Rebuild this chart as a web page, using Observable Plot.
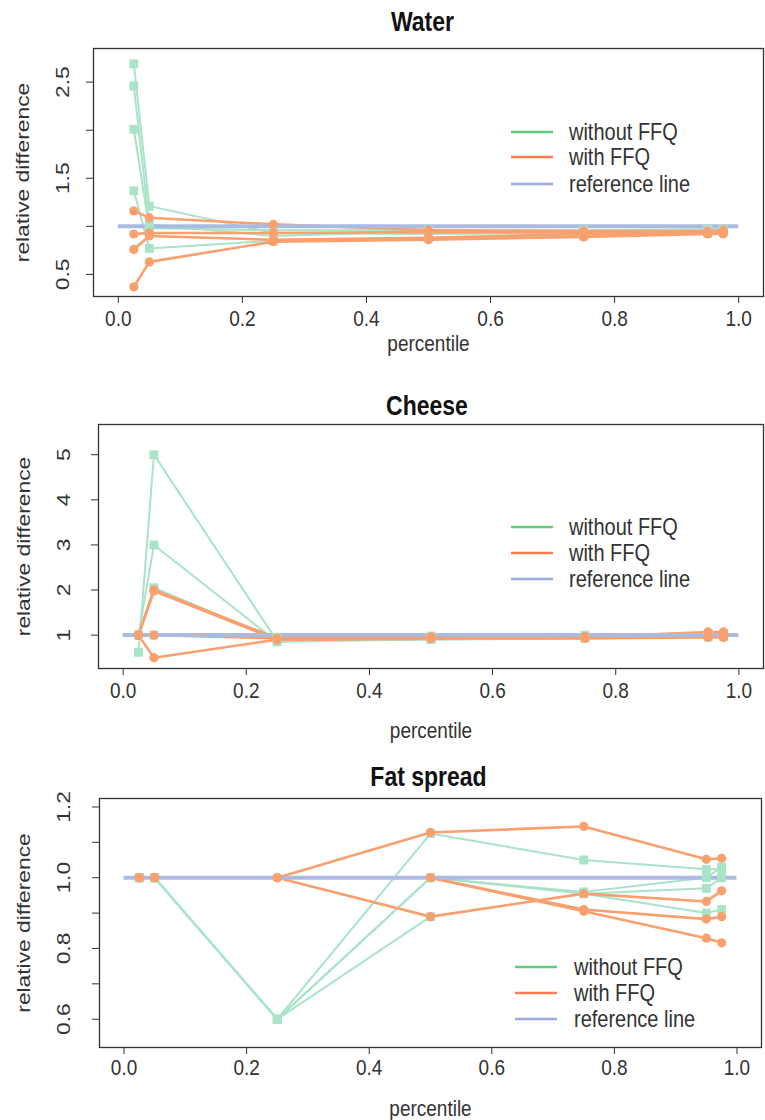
<!DOCTYPE html>
<html>
<head>
<meta charset="utf-8">
<script src="https://cdn.jsdelivr.net/npm/d3@7"></script>
<script src="https://cdn.jsdelivr.net/npm/@observablehq/plot@0.6"></script>
<style>
  html, body { margin: 0; padding: 0; background: #fff; }
  #chart svg { display: block; }
</style>
</head>
<body>
<div id="chart"></div>
<script>
// ---------- data ----------
const percentiles = [0.025, 0.05, 0.25, 0.5, 0.75, 0.95, 0.975];
const xTicks = [0, 0.2, 0.4, 0.6, 0.8, 1.0];
const refValue = 1;
const refRange = [0, 1];
const legendLabels = ["without FFQ", "with FFQ", "reference line"];

const waterTitle = "Water";
const waterWithout = [
  [2.69, 1.21, 0.93, 0.92, 0.93, 0.95, 0.95],
  [2.46, 1.02, 0.90, 0.95, 0.95, 0.96, 0.96],
  [2.01, 0.98, 0.96, 0.96, 0.96, 0.97, 0.97],
  [1.37, 0.77, 0.85, 0.88, 0.90, 0.93, 0.94]
];
const waterWith = [
  [1.16, 1.09, 1.02, 0.96, 0.95, 0.95, 0.96],
  [0.92, 0.93, 0.93, 0.94, 0.94, 0.94, 0.95],
  [0.76, 0.90, 0.86, 0.88, 0.92, 0.93, 0.93],
  [0.37, 0.63, 0.84, 0.86, 0.89, 0.92, 0.92]
];
const waterYTicks = [0.5, 1.0, 1.5, 2.0, 2.5];
const waterYLabels = [0.5, 1.5, 2.5];

const cheeseTitle = "Cheese";
const cheeseWithout = [
  [0.62, 5.0, 0.87, 0.90, 0.93, 0.96, 0.97],
  [1.0, 3.0, 0.85, 0.92, 0.95, 1.0, 1.0],
  [1.0, 2.05, 0.90, 0.95, 0.97, 1.0, 1.02],
  [1.0, 1.0, 0.95, 0.98, 1.0, 1.02, 1.03]
];
const cheeseWith = [
  [1.0, 2.0, 0.93, 0.95, 0.96, 1.07, 1.07],
  [1.0, 1.98, 0.90, 0.93, 0.93, 0.97, 0.96],
  [1.0, 1.0, 0.93, 0.96, 0.97, 1.0, 1.0],
  [1.0, 0.5, 0.90, 0.92, 0.93, 0.95, 0.95]
];
const cheeseYTicks = [1, 2, 3, 4, 5];
const cheeseYLabels = [1, 2, 3, 4, 5];

const fatTitle = "Fat spread";
const fatWithout = [
  [1.0, 1.0, 0.6, 1.125, 1.05, 1.024, 1.025],
  [1.0, 1.0, 0.6, 1.0, 0.96, 1.0, 1.03],
  [1.0, 1.0, 0.6, 1.0, 0.955, 0.90, 0.91],
  [1.0, 1.0, 0.6, 0.89, 0.955, 0.97, 1.0]
];
const fatWith = [
  [1.0, 1.0, 1.0, 1.128, 1.145, 1.052, 1.055],
  [1.0, 1.0, 1.0, 1.0, 0.91, 0.883, 0.89],
  [1.0, 1.0, 1.0, 1.0, 0.905, 0.829, 0.816],
  [1.0, 1.0, 1.0, 0.89, 0.955, 0.933, 0.963]
];
const fatYTicks = [0.6, 0.7, 0.8, 0.9, 1.0, 1.1, 1.2];
const fatYLabels = [0.6, 0.8, 1.0, 1.2];

// ---------- styles ----------
const greenData = "#a9e3c8";
const orangeData = "#f9a06e";
const refColor = "#abbbe0";
const legendColors = ["#63cc7c", "#fb7c4f", "#9aaad9"];
const font = "'Liberation Sans', Arial, Helvetica, sans-serif";
const ink = "#333";
const textStretch = 1.2;

function tidy(series) {
  const out = [];
  series.forEach((vals, s) => vals.forEach((v, j) => out.push({x: percentiles[j], y: v, s})));
  return out;
}

function legend(lx1, lx2, tx, ys) {
  return () => {
    const g = d3.create("svg:g");
    legendLabels.forEach((lab, i) => {
      g.append("line")
        .attr("x1", lx1).attr("x2", lx2).attr("y1", ys[i]).attr("y2", ys[i])
        .attr("stroke", legendColors[i]).attr("stroke-width", 2.6);
      g.append("text")
        .attr("x", tx).attr("y", ys[i]).attr("dy", "0.35em")
        .attr("text-anchor", "start")
        .attr("fill", ink).attr("font-size", 20).attr("font-family", font)
        .text(lab);
    });
    return g.node();
  };
}

function panel(cfg) {
  const gData = tidy(cfg.without);
  const oData = tidy(cfg.withF);
  return Plot.plot({
    width: 765,
    height: cfg.height,
    marginTop: cfg.mt, marginBottom: cfg.mb, marginLeft: cfg.ml, marginRight: cfg.mr,
    style: {fontFamily: font, fontSize: "19px", color: ink, background: "#fff", overflow: "visible"},
    x: {domain: [-0.04, 1.04]},
    y: {domain: cfg.yDomain},
    marks: [
      Plot.axisX({ticks: xTicks, tickSize: 7, tickPadding: cfg.xPad, tickFormat: d3.format(".1f"), label: null, fontSize: 19}),
      Plot.axisY({ticks: cfg.yTicks, tickSize: 7, tickFormat: () => "", label: null}),
      Plot.text(cfg.yLabels, {y: d => d, text: d => cfg.yFmt(d), frameAnchor: "left", dx: cfg.yLabDx, rotate: -90, textAnchor: "middle", lineAnchor: "middle", fontSize: 19, fill: ink}),
      Plot.text(["relative difference"], {frameAnchor: "left", dx: cfg.yTitleDx, rotate: -90, textAnchor: "middle", lineAnchor: "middle", fontSize: 19, fill: ink}),
      Plot.text(["percentile"], {frameAnchor: "bottom", dy: cfg.xTitleDy, textAnchor: "middle", lineAnchor: "middle", fontSize: 19, fill: ink}),
      Plot.text([cfg.title], {frameAnchor: "top", dy: cfg.titleDy, dx: cfg.titleDx, textAnchor: "middle", lineAnchor: "middle", fontSize: 23, fontWeight: "bold", fill: "#111"}),
      Plot.line(gData, {x: "x", y: "y", z: "s", stroke: greenData, strokeWidth: 2}),
      Plot.line(oData, {x: "x", y: "y", z: "s", stroke: orangeData, strokeWidth: 2.6}),
      Plot.ruleY([refValue], {x1: refRange[0], x2: refRange[1], stroke: refColor, strokeWidth: 4}),
      Plot.dot(gData, {x: "x", y: "y", symbol: "square", r: 5, fill: greenData, stroke: null}),
      Plot.dot(oData, {x: "x", y: "y", symbol: "circle", r: 4.6, fill: orangeData, stroke: null}),
      Plot.frame({stroke: "#333", strokeWidth: 1.3}),
      legend(cfg.lx1, cfg.lx2, cfg.tx, cfg.ly)
    ]
  });
}

// the reference's text is slightly stretched vertically; mimic that
function stretchText(svg, s) {
  d3.select(svg).selectAll("text").each(function () {
    const t = this;
    const g = document.createElementNS("http://www.w3.org/2000/svg", "g");
    t.parentNode.insertBefore(g, t);
    g.appendChild(t);
    const bb = g.getBBox();
    const cy = bb.y + bb.height / 2;
    g.setAttribute("transform", `translate(0,${cy}) scale(1,${s}) translate(0,${-cy})`);
  });
}

const chart = document.getElementById("chart");
const panels = [
  {
    title: waterTitle, without: waterWithout, withF: waterWith,
    height: 380, mt: 48, mb: 84, ml: 93, mr: 2,
    yDomain: [0.27, 2.85], yTicks: waterYTicks, yLabels: waterYLabels, yFmt: d3.format(".1f"),
    xPad: 8, yLabDx: -31, yTitleDx: -71, xTitleDy: 47, titleDy: -26, titleDx: -6,
    lx1: 511, lx2: 553, tx: 569, ly: [132, 157, 184]
  },
  {
    title: cheeseTitle, without: cheeseWithout, withF: cheeseWith,
    height: 370, mt: 44, mb: 82, ml: 98, mr: 2,
    yDomain: [0.26, 5.67], yTicks: cheeseYTicks, yLabels: cheeseYLabels, yFmt: d3.format("d"),
    xPad: 8, yLabDx: -35, yTitleDx: -75, xTitleDy: 62, titleDy: -18, titleDx: -4,
    lx1: 511, lx2: 553, tx: 569, ly: [147, 173, 199]
  },
  {
    title: fatTitle, without: fatWithout, withF: fatWith,
    height: 370, mt: 48, mb: 73, ml: 99, mr: 4,
    yDomain: [0.52, 1.224], yTicks: fatYTicks, yLabels: fatYLabels, yFmt: d3.format(".1f"),
    xPad: 6, yLabDx: -36, yTitleDx: -76, xTitleDy: 61, titleDy: -21, titleDx: -2,
    lx1: 515, lx2: 557, tx: 574, ly: [217, 243, 269]
  }
];
for (const cfg of panels) {
  const svg = panel(cfg);
  chart.appendChild(svg);
  stretchText(svg, textStretch);
}
</script>
</body>
</html>
